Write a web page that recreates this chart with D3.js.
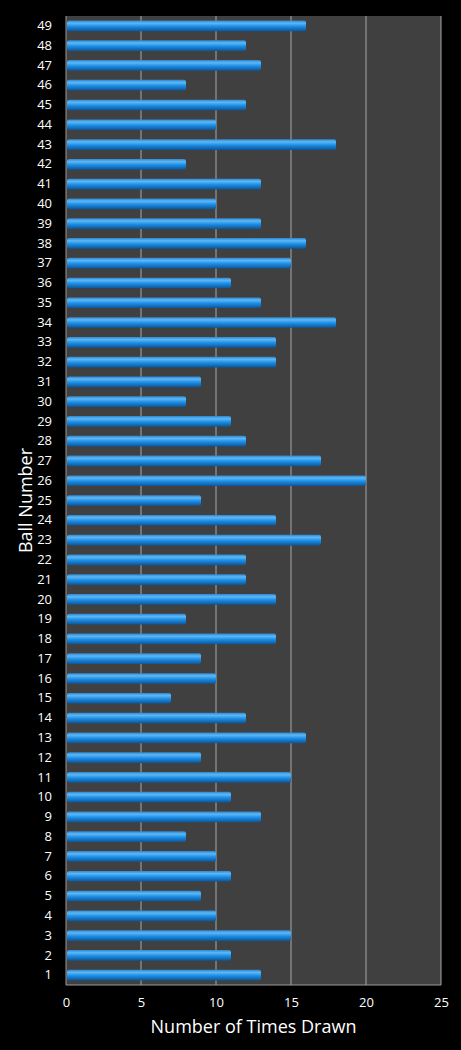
<!DOCTYPE html>
<meta charset="utf-8">
<script src="https://d3js.org/d3.v7.min.js"></script>
<style>
  body { margin: 0; background: #000; }
</style>
<div id="chart"></div>
<script>
  // ball numbers and how often each was drawn
  const balls = [1,2,3,4,5,6,7,8,9,10,11,12,13,14,15,16,17,18,19,20,21,22,23,24,25,
                 26,27,28,29,30,31,32,33,34,35,36,37,38,39,40,41,42,43,44,45,46,47,48,49];
  const timesDrawn = [13,11,15,10,9,11,10,8,13,11,15,9,16,12,7,10,9,14,8,14,12,12,17,14,9,
                      20,17,12,11,8,9,14,14,18,13,11,15,16,13,10,13,8,18,10,12,8,13,12,16];
  const xTicks = [0,5,10,15,20,25];

  var data = balls.map(function(b, i) { return {ball: b, n: timesDrawn[i]}; });

  var W = 461, H = 1050;
  var margin = {top: 16, right: 20, bottom: 65, left: 66},
      width = W - margin.left - margin.right,
      height = H - margin.top - margin.bottom;

  var svg = d3.select("#chart").append("svg")
      .attr("width", W).attr("height", H)
      .style("background", "#000")
      .style("font-family", "'Open Sans', 'DejaVu Sans', sans-serif");

  var defs = svg.append("defs");
  var grad = defs.append("linearGradient")
      .attr("id", "barGrad").attr("x1", 0).attr("y1", 0).attr("x2", 0).attr("y2", 1);
  grad.append("stop").attr("offset", "0%").attr("stop-color", "#2f86d0");
  grad.append("stop").attr("offset", "25%").attr("stop-color", "#5cb8f5");
  grad.append("stop").attr("offset", "55%").attr("stop-color", "#1d8ee6");
  grad.append("stop").attr("offset", "100%").attr("stop-color", "#0d5596");

  var g = svg.append("g")
      .attr("transform", "translate(" + margin.left + "," + margin.top + ")");

  var x = d3.scaleLinear().domain([0, 25]).range([0, width]);
  var y = d3.scaleBand()
      .domain(balls.slice().reverse())
      .range([0, height])
      .paddingInner(0.46).paddingOuter(0.23);

  // plot background
  g.append("rect")
      .attr("width", width).attr("height", height)
      .attr("fill", "#404040");

  // vertical grid
  g.append("g").selectAll("line")
    .data(xTicks.slice(1))
    .enter().append("line")
      .attr("x1", function(d) { return x(d); })
      .attr("x2", function(d) { return x(d); })
      .attr("y1", 0).attr("y2", height)
      .attr("stroke", "#a8a8a8").attr("stroke-width", 1);

  // bars
  g.append("g").selectAll("rect")
    .data(data)
    .enter().append("rect")
      .attr("x", x(0) + 1)
      .attr("y", function(d) { return y(d.ball); })
      .attr("width", function(d) { return x(d.n) - x(0) - 1; })
      .attr("height", y.bandwidth())
      .attr("rx", 2)
      .attr("fill", "url(#barGrad)");

  // axes lines
  g.append("line").attr("x1", 0).attr("x2", 0).attr("y1", 0).attr("y2", height)
      .attr("stroke", "#9a9a9a");
  g.append("line").attr("x1", 0).attr("x2", width).attr("y1", height).attr("y2", height)
      .attr("stroke", "#9a9a9a");

  // y axis labels
  var yAxis = g.append("g")
      .call(d3.axisLeft(y).tickSize(0).tickPadding(14));
  yAxis.select(".domain").remove();
  yAxis.selectAll("text")
      .attr("fill", "#fff").style("font-size", "13px")
      .style("font-family", "'Open Sans', 'DejaVu Sans', sans-serif");

  // x axis labels
  var xAxis = g.append("g")
      .attr("transform", "translate(0," + height + ")")
      .call(d3.axisBottom(x).tickValues(xTicks).tickSize(0).tickPadding(13));
  xAxis.select(".domain").remove();
  xAxis.selectAll("text")
      .attr("fill", "#fff").style("font-size", "13px")
      .style("font-family", "'Open Sans', 'DejaVu Sans', sans-serif");

  // titles
  svg.append("text")
      .attr("x", margin.left + width / 2)
      .attr("y", 1033)
      .attr("text-anchor", "middle")
      .attr("fill", "#fff")
      .style("font-size", "18px")
      .text("Number of Times Drawn");

  svg.append("text")
      .attr("transform", "translate(32," + (margin.top + height / 2) + ") rotate(-90)")
      .attr("text-anchor", "middle")
      .attr("fill", "#fff")
      .style("font-size", "18px")
      .text("Ball Number");
</script>
